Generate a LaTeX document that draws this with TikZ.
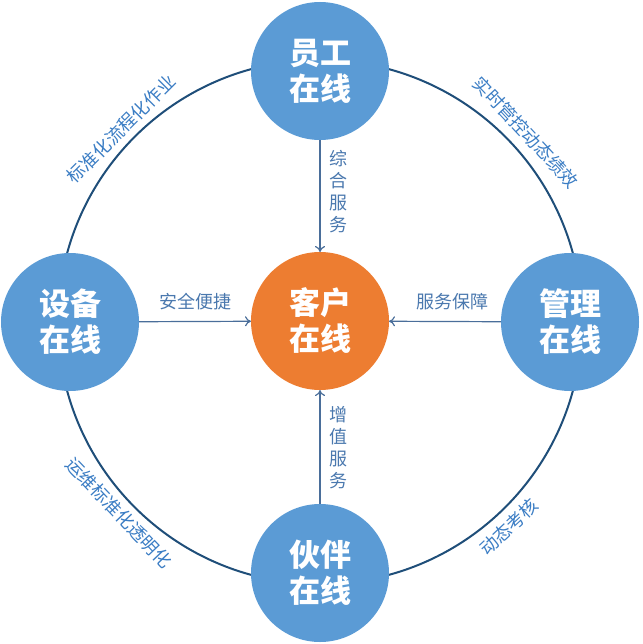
\documentclass[tikz,border=0pt]{standalone}
\usepackage{fontspec}
\setmainfont{Noto Sans CJK SC}
\usetikzlibrary{arrows.meta}
\definecolor{nodeblue}{HTML}{5B9BD5}
\definecolor{nodeorange}{HTML}{ED7D31}
\definecolor{ringcol}{HTML}{1F4E79}
\definecolor{arrcol}{HTML}{4A6E9A}
\definecolor{lblcol}{HTML}{4A78AE}
\definecolor{curvecol}{HTML}{3B7DC4}
\tikzset{
  ringline/.style={draw=ringcol, line width=2pt},
  bignode/.style={circle, minimum size=138pt, inner sep=0pt, outer sep=0pt, fill=nodeblue, text=white, align=center, font=\fontsize{31}{36}\selectfont\bfseries},
  centernode/.style={bignode, fill=nodeorange},
  arr/.style={draw=arrcol, line width=1.2pt, -{To[length=6pt,width=10pt]}},
  arrlbl/.style={text=lblcol, font=\fontsize{18}{22}\selectfont, inner sep=0pt, align=center},
  curvelbl/.style={text=curvecol, font=\fontsize{18}{18}\selectfont, inner sep=0pt}
}
\begin{document}
\begin{tikzpicture}[x=1pt,y=-1pt]
\useasboundingbox (0,0) rectangle (642,644);
\draw[ringline] (320,322) circle[radius=262];
\node[bignode] (top) at (320,71) {员工\\在线};
\node[bignode] (left) at (70,322) {设备\\在线};
\node[bignode] (right) at (570,322) {管理\\在线};
\node[bignode] (bottom) at (320,573) {伙伴\\在线};
\node[centernode] (ctr) at (320,321) {客户\\在线};
\draw[arr] (top) -- (ctr);
\draw[arr] (left) -- (ctr);
\draw[arr] (right) -- (ctr);
\draw[arr] (bottom) -- (ctr);
\node[arrlbl] (l1) at (338,192) {综\\合\\服\\务};
\node[arrlbl] (l2) at (338,448) {增\\值\\服\\务};
\node[arrlbl] (l3) at (195,302) {安全便捷};
\node[arrlbl] (l4) at (452,302) {服务保障};
\node[curvelbl, rotate=45] (ul) at (121,129) {标准化流程化作业};
\node[curvelbl, rotate=-47] (ur) at (526,132) {实时管控动态绩效};
\node[curvelbl, rotate=-46.5] (ll) at (119,513) {运维标准化透明化};
\node[curvelbl, rotate=43] (lr) at (509,527) {动态考核};
\end{tikzpicture}
\end{document}
